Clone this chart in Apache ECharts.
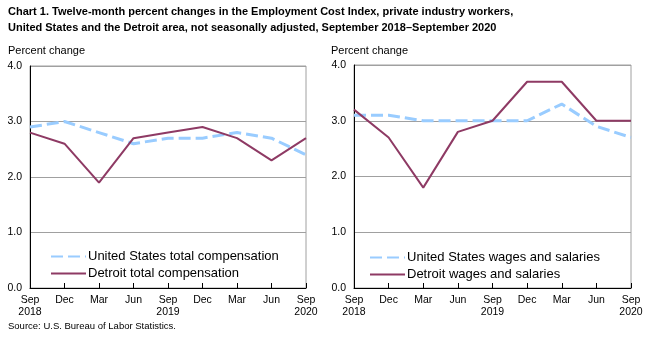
<!DOCTYPE html>
<html><head><meta charset="utf-8">
<script src="https://cdn.jsdelivr.net/npm/echarts@6/dist/echarts.min.js"></script>
<style>html,body{margin:0;padding:0;background:#fff}#c{width:653px;height:339px}</style>
</head><body><div id="c"></div>
<script>
const categories = ['Sep\n2018','Dec','Mar','Jun','Sep\n2019','Dec','Mar','Jun','Sep\n2020'];
const usTotal = [2.9, 3.0, 2.8, 2.6, 2.7, 2.7, 2.8, 2.7, 2.4];
const detroitTotal = [2.8, 2.6, 1.9, 2.7, 2.8, 2.9, 2.7, 2.3, 2.7];
const usWages = [3.1, 3.1, 3.0, 3.0, 3.0, 3.0, 3.3, 2.9, 2.7];
const detroitWages = [3.2, 2.7, 1.8, 2.8, 3.0, 3.7, 3.7, 3.0, 3.0];
const yTicks = [0, 1, 2, 3, 4];

const FONT = '"Liberation Sans", Arial, sans-serif';
const US_COLOR = '#99CCFF';
const DET_COLOR = '#8E3A64';

function xAxis(gi){
  return {type:'category', gridIndex:gi, data:categories, boundaryGap:false,
    axisLine:{lineStyle:{color:'#000', width:1}},
    axisTick:{inside:true, length:5, lineStyle:{color:'#000'}, alignWithLabel:true},
    axisLabel:{color:'#000', fontFamily:FONT, fontSize:10.5, lineHeight:12, margin:6, interval:0},
    splitLine:{show:false}};
}
function yAxis(gi){
  return {type:'value', gridIndex:gi, min:yTicks[0], max:yTicks[yTicks.length-1], interval:1,
    axisLine:{show:true, lineStyle:{color:'#000', width:1}},
    axisTick:{show:false},
    axisLabel:{color:'#000', fontFamily:FONT, fontSize:10.5, margin:8, formatter:v=>v.toFixed(1)},
    splitLine:{lineStyle:{color:'#A0A0A0', width:1}}};
}
function us(name, data, idx){
  return {name, type:'line', xAxisIndex:idx, yAxisIndex:idx, data, symbol:'none',
    lineStyle:{color:US_COLOR, width:3, type:[12,5]}, itemStyle:{color:US_COLOR}, z:2};
}
function det(name, data, idx){
  return {name, type:'line', xAxisIndex:idx, yAxisIndex:idx, data, symbol:'none',
    lineStyle:{color:DET_COLOR, width:2}, itemStyle:{color:DET_COLOR}, z:3};
}
function legend(data, left, top){
  return {data, left, top, orient:'vertical', itemWidth:35, itemHeight:10, itemGap:4,
    itemStyle:{opacity:0},
    textStyle:{color:'#000', fontFamily:FONT, fontSize:13, padding:[0,0,0,-3]}, padding:0};
}

const chart = echarts.init(document.getElementById('c'), null, {renderer:'canvas'});
chart.setOption({
  animation:false,
  backgroundColor:'#fff',
  title:[
    {text:'Chart 1. Twelve-month percent changes in the Employment Cost Index, private industry workers,\nUnited States and the Detroit area, not seasonally adjusted, September 2018\u2013September 2020',
     left:8, top:4, padding:0,
     textStyle:{fontFamily:FONT, fontSize:11, fontWeight:'bold', color:'#000', lineHeight:16}},
    {text:'Percent change', left:8, top:45, padding:0, textStyle:{fontFamily:FONT, fontSize:11, fontWeight:'normal', color:'#000'}},
    {text:'Percent change', left:331, top:45, padding:0, textStyle:{fontFamily:FONT, fontSize:11, fontWeight:'normal', color:'#000'}},
    {text:'Source: U.S. Bureau of Labor Statistics.', left:8, top:321, padding:0, textStyle:{fontFamily:FONT, fontSize:9.5, fontWeight:'normal', color:'#000'}}
  ],
  grid:[
    {left:30, top:66, width:276, height:222, show:true, borderColor:'#A0A0A0', borderWidth:1},
    {left:354, top:65, width:277, height:223, show:true, borderColor:'#A0A0A0', borderWidth:1}
  ],
  xAxis:[xAxis(0), xAxis(1)],
  yAxis:[yAxis(0), yAxis(1)],
  legend:[
    legend(['United States total compensation','Detroit total compensation'], 50, 250),
    legend(['United States wages and salaries','Detroit wages and salaries'], 369, 251)
  ],
  series:[
    us('United States total compensation', usTotal, 0),
    det('Detroit total compensation', detroitTotal, 0),
    us('United States wages and salaries', usWages, 1),
    det('Detroit wages and salaries', detroitWages, 1)
  ]
});
</script></body></html>
